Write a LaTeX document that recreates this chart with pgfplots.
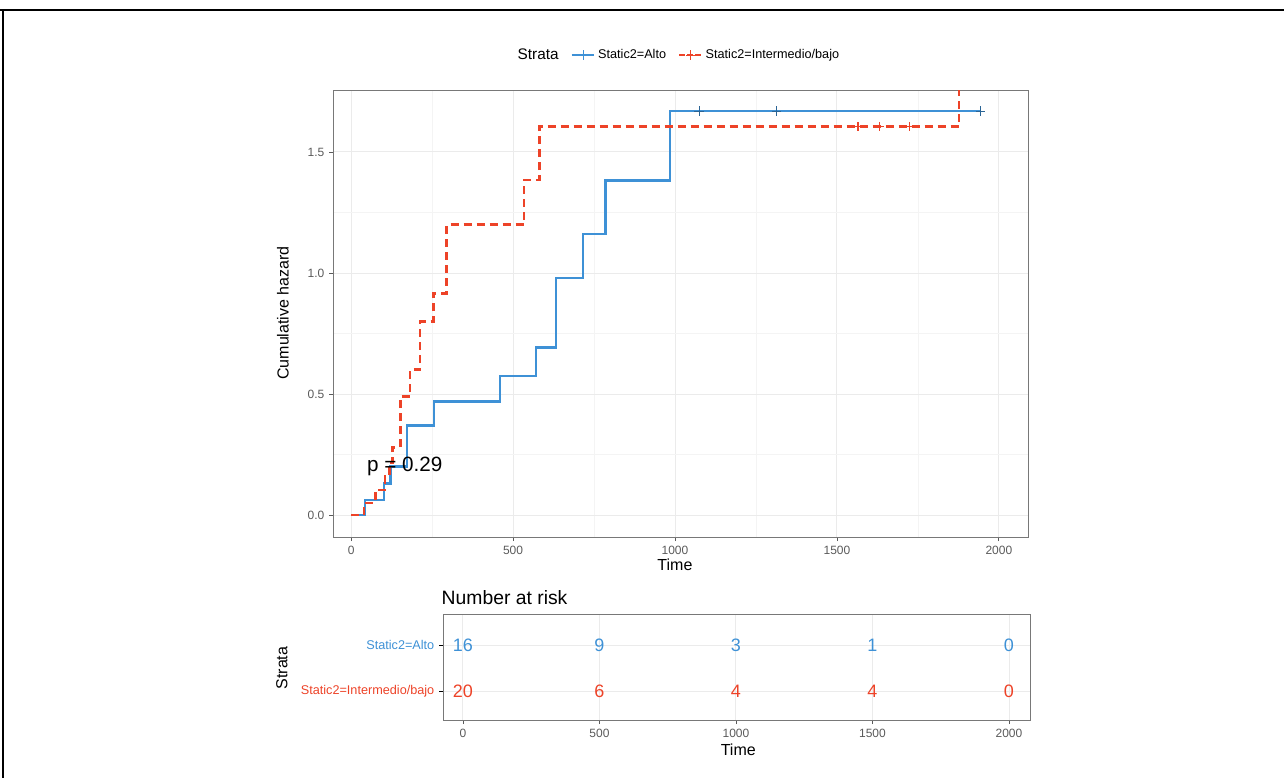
\documentclass[border=0pt]{standalone}
\usepackage{pgfplots}
\pgfplotsset{compat=1.18}
\usepackage{fontspec}
\setmainfont{Liberation Sans}
\definecolor{blueC}{RGB}{62,145,214}
\definecolor{redC}{RGB}{237,67,40}
\definecolor{tickC}{RGB}{90,90,90}
\definecolor{gridC}{RGB}{235,235,235}
\definecolor{gridMinor}{RGB}{244,244,244}
\definecolor{frameC}{RGB}{120,120,120}
\pgfplotsset{
  kmstyle/.style={
    scale only axis,
    /pgf/number format/assume math mode=true,
    axis line style={frameC, line width=0.7pt},
    tick align=outside,
    xtick pos=bottom, ytick pos=left,
    major tick length=3pt,
    tick style={tickC, line width=0.6pt},
    ticklabel style={font=\fontsize{9}{10}\selectfont, text=tickC},
    label style={font=\fontsize{12}{14}\selectfont},
  }
}
\begin{document}
\begin{tikzpicture}
\useasboundingbox (0,0) rectangle (963pt,-583.5pt);
\draw[line width=1.5pt] (0,-7.5pt) -- (963pt,-7.5pt);
\draw[line width=1.5pt] (2.5pt,-7.5pt) -- (2.5pt,-583.5pt);

% Main plot
\begin{axis}[kmstyle,
  at={(249.75pt,-402.75pt)}, anchor=south west,
  width=521.25pt, height=335.25pt,
  xmin=-56, xmax=2090, ymin=-0.091, ymax=1.756,
  xtick={0,500,1000,1500,2000},
  ytick={0,0.5,1,1.5},
  minor xtick={250,750,1250,1750},
  minor ytick={0.25,0.75,1.25},
  yticklabel style={/pgf/number format/fixed,/pgf/number format/fixed zerofill,/pgf/number format/precision=1},
  xticklabel style={/pgf/number format/1000 sep={}},
  xmajorgrids, ymajorgrids, xminorgrids, yminorgrids,
  major grid style={gridC, line width=0.7pt},
  minor grid style={gridMinor, line width=0.4pt},
  minor tick length=0pt,
  xlabel={Time}, ylabel={Cumulative hazard},
  xlabel style={at={(axis description cs:0.492,0)}, anchor=center, yshift=-21pt},
  ylabel style={at={(axis description cs:-0.072,0.501)}, anchor=center},
  legend columns=3,
  legend style={at={(0.497,1.078)}, anchor=center, draw=none, fill=none,
    font=\fontsize{9.5}{11}\selectfont,
    /tikz/every even column/.append style={column sep=7pt}},
  legend cell align=left,
]
\addlegendimage{empty legend}
\addlegendentry{\fontsize{11.5}{13}\selectfont Strata}
\addlegendimage{blueC, line width=1.6pt, mark=+, mark options={solid, line width=0.8pt}, mark size=3.5pt}
\addlegendentry{Static2=Alto}
\addlegendimage{redC, line width=1.6pt, dash pattern=on 4pt off 2pt, mark=+, mark options={solid, line width=0.8pt}, mark size=3.5pt}
\addlegendentry{Static2=Intermedio/bajo}

\addplot[forget plot, const plot, blueC, line width=1.9pt] table {
0 0
43 0.0625
102 0.129
122 0.2006
172 0.37
256 0.468
460 0.574
571 0.692
632 0.979
716 1.161
786 1.382
985 1.669
1944 1.669
};
\addplot[forget plot, const plot, redC, line width=2pt, dash pattern=on 6pt off 3.75pt] table {
0 0
40 0.05
75 0.103
105 0.158
118 0.217
128 0.28
152 0.49
182 0.60
213 0.80
254 0.916
295 1.20
534 1.384
581 1.605
1877 2.6
};
\addplot[forget plot, only marks, mark=+, mark size=3.5pt, blueC!70!black, mark options={line width=0.6pt}] table {
1074 1.669
1314 1.669
1944 1.669
};
\addplot[forget plot, only marks, mark=+, mark size=3.5pt, redC, mark options={line width=0.8pt}] table {
1565 1.605
1630 1.605
1725 1.605
};
\node[anchor=west, font=\fontsize{15.5}{17}\selectfont] at (axis cs:35,0.2) {p = 0.29};
\end{axis}

% Risk table
\node[anchor=west, font=\fontsize{14.5}{16}\selectfont] at (327.75pt,-448.5pt) {Number at risk};
\begin{axis}[kmstyle,
  at={(332.25pt,-540pt)}, anchor=south west,
  width=440.25pt, height=79.5pt,
  xmin=-73, xmax=2077, ymin=0.37, ymax=2.674,
  xtick={0,500,1000,1500,2000},
  xticklabel style={/pgf/number format/1000 sep={}},
  ytick={1,2},
  yticklabels={\textcolor{redC}{Static2=Intermedio/bajo}, \textcolor{blueC}{Static2=Alto}},
  yticklabel style={font=\fontsize{9.5}{11}\selectfont},
  ytick style={black, line width=0.7pt},
  xmajorgrids, ymajorgrids,
  major grid style={gridC, line width=0.7pt},
  xlabel={Time}, ylabel={Strata},
  xlabel style={at={(axis description cs:0.503,0)}, anchor=center, yshift=-22.5pt},
  ylabel style={at={(axis description cs:-0.2743,0.49)}, anchor=center},
]
\addplot[draw=none, mark=none, nodes near coords, point meta=explicit symbolic,
  nodes near coords style={anchor=center, text=blueC, font=\fontsize{13.5}{15}\selectfont}]
  table[meta=lab] {
x y lab
0 2 16
500 2 9
1000 2 3
1500 2 1
2000 2 0
};
\addplot[draw=none, mark=none, nodes near coords, point meta=explicit symbolic,
  nodes near coords style={anchor=center, text=redC, font=\fontsize{13.5}{15}\selectfont}]
  table[meta=lab] {
x y lab
0 1 20
500 1 6
1000 1 4
1500 1 4
2000 1 0
};
\end{axis}
\end{tikzpicture}
\end{document}
